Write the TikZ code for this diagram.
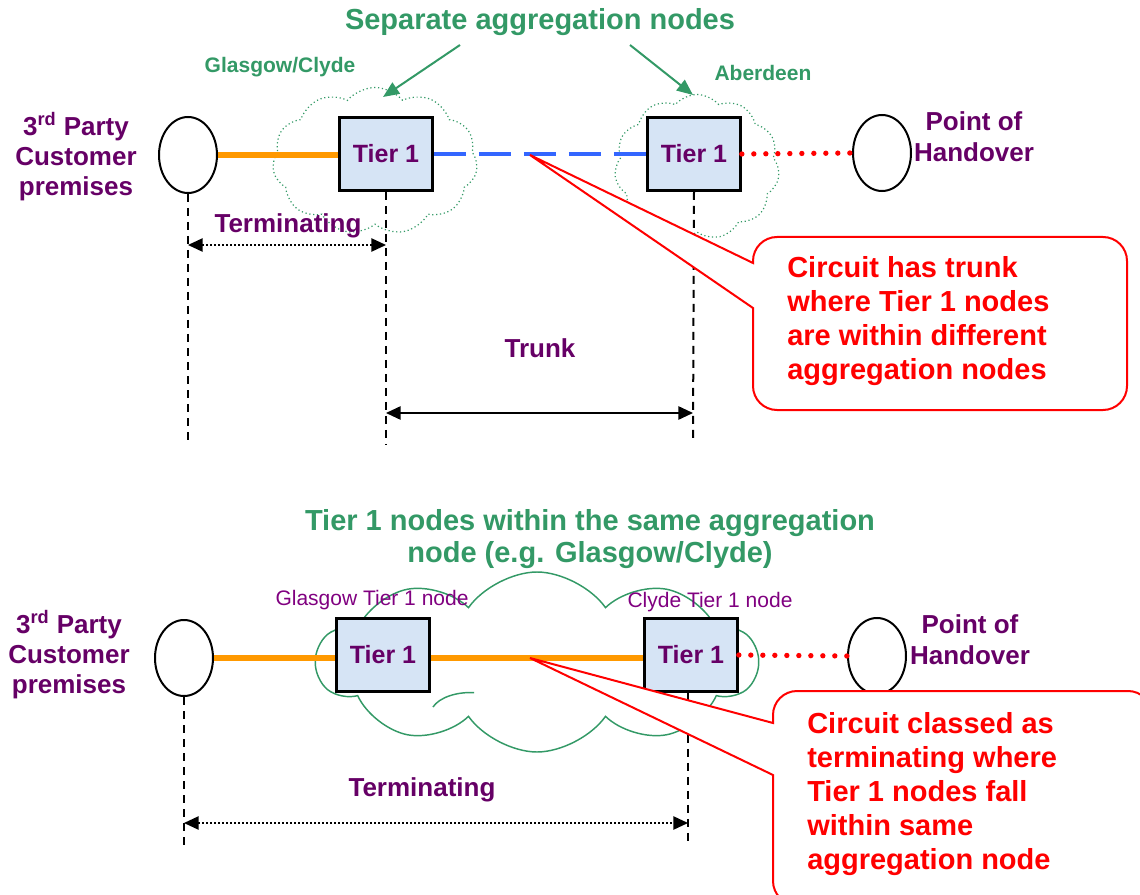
\documentclass[tikz,border=0pt]{standalone}
\usepackage{fontspec}
\setmainfont{Liberation Sans}
\usetikzlibrary{arrows.meta,shapes.symbols,shapes.geometric}

\definecolor{aggreen}{RGB}{51,153,102}
\definecolor{plum}{RGB}{102,0,102}
\definecolor{tiernamecol}{RGB}{128,0,128}
\definecolor{trunkblue}{RGB}{51,102,255}
\definecolor{linkorange}{RGB}{255,153,0}
\definecolor{tierfill}{RGB}{214,228,245}

\begin{document}
\begin{tikzpicture}[x=0.75pt,y=-0.75pt,
  site/.style={ellipse, draw, line width=1.5pt, inner sep=0pt, minimum width=43.5pt, minimum height=57pt},
  tierbox/.style={draw, line width=2pt, fill=tierfill, inner sep=0pt, minimum width=69.75pt, minimum height=54.75pt,
    text=plum, font=\fontsize{18.75}{22}\selectfont\bfseries},
  sitelabel/.style={align=center, text=plum, font=\fontsize{19.5}{22.5}\selectfont\bfseries, inner sep=0pt},
  dimlabel/.style={text=plum, font=\fontsize{19.5}{22.5}\selectfont\bfseries, inner sep=0pt},
  heading/.style={align=center, text=aggreen, font=\fontsize{21.75}{24}\selectfont\bfseries, inner sep=0pt},
  aggname/.style={text=aggreen, font=\fontsize{15.75}{18}\selectfont\bfseries, inner sep=0pt},
  tiername/.style={text=tiernamecol, font=\fontsize{15.75}{18}\selectfont, inner sep=0pt},
  aggdotted/.style={cloud, cloud puffs=11, cloud puff arc=100, cloud ignores aspect, draw=aggreen,
    line width=0.9pt, dash pattern=on 0.9pt off 2pt, inner sep=0pt},
  aggsolid/.style={cloud, cloud puffs=10, cloud puff arc=110, cloud ignores aspect, draw=aggreen,
    line width=1.1pt, inner sep=0pt},
  access/.style={draw=linkorange, line width=4.4pt},
  trunk/.style={draw=trunkblue, line width=3.5pt, dash pattern=on 24pt off 9.75pt},
  handover/.style={draw=red, line width=4pt, line cap=round, dash pattern=on 0pt off 9pt},
  guide/.style={draw=black, line width=1.5pt, dash pattern=on 6pt off 4.5pt},
  dimdot/.style={draw=black, line width=1.1pt, dash pattern=on 1.1pt off 1.9pt,
    {Triangle[length=11pt,width=10pt]}-{Triangle[length=11pt,width=10pt]}},
  dimsolid/.style={draw=black, line width=1.3pt,
    {Triangle[length=11pt,width=10pt]}-{Triangle[length=11pt,width=10pt]}},
  pointer/.style={draw=aggreen, line width=1.5pt, -{Triangle[length=12pt,width=10pt]}},
  callout/.style={draw=red, line width=1.5pt, fill=white},
  callouttext/.style={align=left, text=red, font=\fontsize{21.75}{25.5}\selectfont\bfseries,
    inner sep=0pt, anchor=west},
]
\useasboundingbox (0,0) rectangle (1140,895);

% ---------------- upper case: separate aggregation nodes ----------------
\node[aggdotted, minimum width=153.75pt, minimum height=110.25pt] (cloudA) at (375,161) {};
\node[aggdotted, minimum width=123.75pt, minimum height=108.75pt] (cloudB) at (697,167) {};

\node[heading] (title1) at (540,22) {Separate aggregation nodes};
\node[aggname] (glasgowclyde) at (280,67) {Glasgow/Clyde};
\node[aggname] (aberdeen) at (763,73) {Aberdeen};
\coordinate (arrowA) at (460,45);
\coordinate (arrowB) at (630,45);
\draw[pointer] (arrowA) -- (383,97);
\draw[pointer] (arrowB) -- (693,95);

\node[site] (cust1) at (188,155) {};
\node[site] (poh1) at (882,153) {};
\node[sitelabel] (cust1lbl) at (76,157) {3\textsuperscript{rd} Party\\Customer\\premises};
\node[sitelabel, font=\fontsize{19.5}{23.25}\selectfont\bfseries] (poh1lbl) at (974,137) {Point of\\Handover};

\node[tierbox] (tierA) at (386,154) {Tier 1};
\node[tierbox] (tierB) at (694,154) {Tier 1};

\draw[access] (cust1.east) -- (tierA.west |- cust1.east);
\draw[trunk] (tierA.east) -- (tierB.west);
\draw[handover] (tierB.east) -- (poh1.west);

\coordinate (g1end) at (188,440);
\coordinate (g2end) at (386,445);
\coordinate (g3end) at (693,440);
\draw[guide] (cust1.south) -- (g1end);
\draw[guide] (tierA.south) -- (g2end);
\draw[guide] (tierB.south) -- (g3end);

\coordinate (termAl) at (188,245);
\coordinate (termAr) at (386,245);
\draw[dimdot] (termAl) -- (termAr);
\node[dimlabel] (termAlbl) at (288,226) {Terminating};

\coordinate (trunkl) at (386,413);
\coordinate (trunkr) at (693,413);
\draw[dimsolid] (trunkl) -- (trunkr);
\node[dimlabel] (trunklbl) at (540,348) {Trunk};

% ---------------- lower case: one shared aggregation node ----------------
\node[aggsolid, minimum width=330pt, minimum height=135pt] (cloudC) at (537,662) {};
\draw[aggreen, line width=1.1pt] (433,707) arc[start angle=200, end angle=275, x radius=40, y radius=22];

\node[heading] (title2) at (590,539) {Tier 1 nodes within the same aggregation\\node (e.g. Glasgow/Clyde)};
\node[tiername] (glasgowlbl) at (372,600) {Glasgow Tier 1 node};
\node[tiername] (clydelbl) at (710,602) {Clyde Tier 1 node};

\node[site] (cust2) at (184,658) {};
\node[site] (poh2) at (877,656) {};
\node[sitelabel] (cust2lbl) at (69,655) {3\textsuperscript{rd} Party\\Customer\\premises};
\node[sitelabel, font=\fontsize{19.5}{23.25}\selectfont\bfseries] (poh2lbl) at (970,640) {Point of\\Handover};

\node[tierbox] (tierC) at (383,655) {Tier 1};
\node[tierbox] (tierD) at (691,655) {Tier 1};

\draw[access] (cust2.east) -- (tierC.west |- cust2.east);
\draw[access] (tierC.east |- cust2.east) -- (tierD.west |- cust2.east);
\draw[handover] (tierD.east) -- (poh2.west);

\coordinate (g4end) at (184,845);
\coordinate (g5end) at (688,845);
\draw[guide] (cust2.south) -- (g4end);
\draw[guide] (tierD.south -| g5end) -- (g5end);

\coordinate (termBl) at (184,823);
\coordinate (termBr) at (688,823);
\draw[dimdot] (termBl) -- (termBr);
\node[dimlabel] (termBlbl) at (422,790) {Terminating};

% ---------------- callouts ----------------
\coordinate (tip1) at (530,155);
\draw[callout] (753,308) [rounded corners=18pt] -- (753,410) -- (1127,410) -- (1127,237) -- (753,237)
  [sharp corners] -- (753,263) -- (tip1) -- cycle;
\node[callouttext] (note1) at (787,321) {Circuit has trunk\\where Tier 1 nodes\\are within different\\aggregation nodes};

\coordinate (tip2) at (530,658);
\draw[callout] (773,775) [rounded corners=18pt] -- (773,905) -- (1152,905) -- (1152,691) -- (773,691)
  [sharp corners] -- (773,723) -- (tip2) -- cycle;
\node[callouttext] (note2) at (807,794.5) {Circuit classed as\\terminating where\\Tier 1 nodes fall\\within same\\aggregation node};
\end{tikzpicture}
\end{document}
